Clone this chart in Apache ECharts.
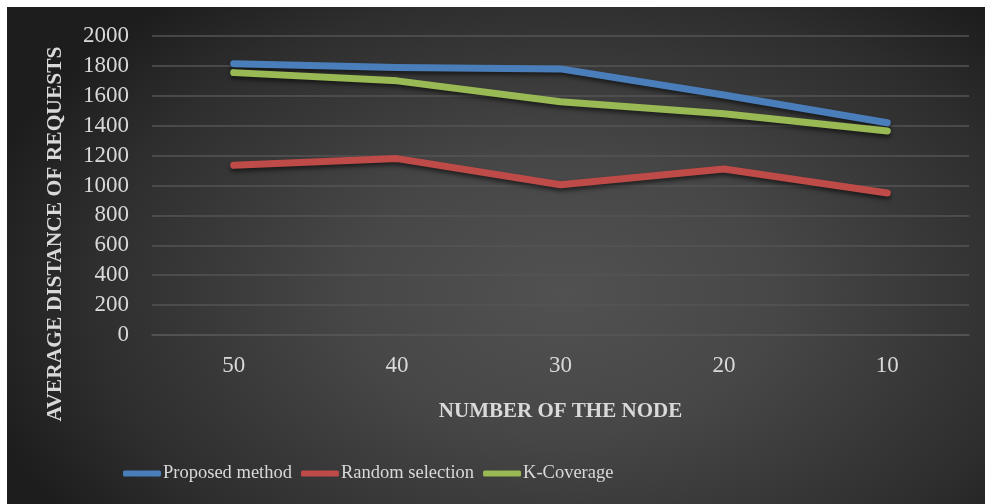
<!DOCTYPE html>
<html>
<head>
<meta charset="utf-8">
<script src="https://cdn.jsdelivr.net/npm/echarts@6/dist/echarts.min.js"></script>
<style>
html,body{margin:0;padding:0;background:#fff;width:985px;height:504px;overflow:hidden;}
#chart{position:absolute;left:7px;top:7px;width:978px;height:497px;
background:radial-gradient(ellipse 62% 78% at 57% 58%, #515151 0%, #474747 35%, #2e2e2e 78%, #1d1d1d 100%);}
</style>
</head>
<body>
<div id="chart"></div>
<script>
const categories = ['50', '40', '30', '20', '10'];
const proposedMethod = [1815, 1790, 1780, 1605, 1420];
const randomSelection = [1135, 1180, 1005, 1110, 950];
const kCoverage = [1755, 1700, 1560, 1480, 1365];
const seriesNames = ['Proposed method', 'Random selection', 'K-Coverage'];
const yTitle = 'AVERAGE DISTANCE OF REQUESTS';
const xTitle = 'NUMBER OF THE NODE';

const FONT = "'Liberation Serif', 'DejaVu Serif', serif";
const colors = ['#4a7ebb', '#be4b48', '#98b954'];
const chart = echarts.init(document.getElementById('chart'), null, {renderer: 'canvas'});

function mkSeries(name, data, color) {
  return {
    name: name, type: 'line', data: data, showSymbol: false, symbol: 'none',
    itemStyle: {color: color},
    lineStyle: {color: color, width: 7, cap: 'round', join: 'round',
      shadowColor: 'rgba(0,0,0,0.55)', shadowBlur: 4, shadowOffsetY: 3},
    animation: false
  };
}

chart.setOption({
  backgroundColor: 'transparent',
  animation: false,
  color: colors,
  grid: {left: 145, right: 16, top: 29, bottom: 169, containLabel: false},
  xAxis: {
    type: 'category', data: categories, boundaryGap: true,
    name: xTitle, nameLocation: 'middle', nameGap: 66,
    nameTextStyle: {color: '#d9d9d9', fontFamily: FONT, fontWeight: 'bold', fontSize: 21},
    axisLine: {show: true, lineStyle: {color: '#555555', width: 1.5}},
    axisTick: {show: false},
    axisLabel: {color: '#d9d9d9', fontFamily: FONT, fontSize: 23, margin: 19}
  },
  yAxis: {
    type: 'value', min: 0, max: 2000, interval: 200,
    axisLine: {show: false}, axisTick: {show: false},
    splitLine: {show: true, lineStyle: {color: '#555555', width: 1.5}},
    axisLabel: {color: '#d9d9d9', fontFamily: FONT, fontSize: 23, margin: 23,
      formatter: function (v) { return String(v); }}
  },
  legend: {
    data: seriesNames, left: 111, top: 452, icon: 'roundRect',
    itemWidth: 38, itemHeight: 6, itemGap: 9,
    textStyle: {color: '#d9d9d9', fontFamily: FONT, fontSize: 18.5, padding: [0, 0, 0, -3]}
  },
  graphic: [{
    type: 'text', x: 48, y: 227, rotation: Math.PI / 2,
    style: {text: yTitle, fill: '#d9d9d9', font: "bold 21.5px 'Liberation Serif', serif",
      align: 'center', verticalAlign: 'middle'}
  }],
  series: [
    mkSeries(seriesNames[0], proposedMethod, colors[0]),
    mkSeries(seriesNames[1], randomSelection, colors[1]),
    mkSeries(seriesNames[2], kCoverage, colors[2])
  ]
});
</script>
</body>
</html>
